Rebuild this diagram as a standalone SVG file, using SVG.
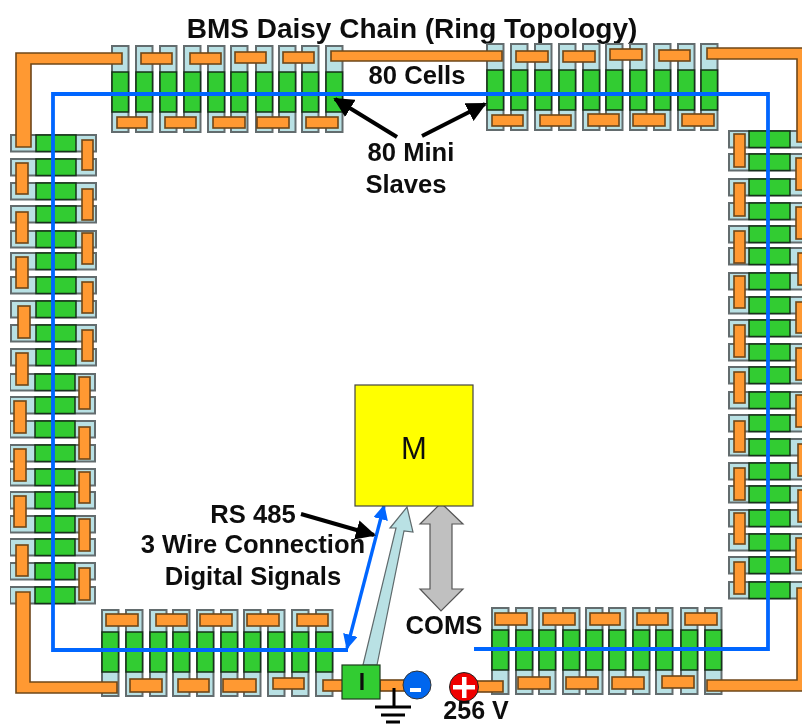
<svg xmlns="http://www.w3.org/2000/svg" xmlns:xlink="http://www.w3.org/1999/xlink" width="802" height="724" viewBox="0 0 802 724">
<style>
.cap{fill:#b9e1e4;stroke:#636c6e;stroke-width:2}
.g{fill:#33cc33;stroke:#17301a;stroke-width:1.5}
.o{fill:#ff9933;stroke:#6f4718;stroke-width:1.6}
.t{font-family:"Liberation Sans",Arial,sans-serif;font-weight:bold;fill:#111;text-anchor:middle}
.lbl{font-size:25.6px}
.wire{fill:none;stroke:#0066ff;stroke-width:3.8}
.ptr{fill:none;stroke:#000;stroke-width:4}
</style>
<defs>
<filter id="soft" x="0" y="0" width="100%" height="100%"><feGaussianBlur stdDeviation="0.45"/></filter>
<g id="vt"><rect class="cap" width="16.5" height="86"/><rect class="g" x="0" y="26" width="16.5" height="40"/></g>
<g id="vb"><rect class="cap" width="16.5" height="86"/><rect class="g" x="0" y="22" width="16.5" height="40"/></g>
<g id="hl"><rect class="cap" width="85" height="16.5"/><rect class="g" x="25" width="40" height="16.5"/></g>
<g id="hr"><rect class="cap" width="85" height="16.5"/><rect class="g" x="20" width="41" height="16.5"/></g>
<marker id="tipK" viewBox="0 0 10 10" refX="9" refY="5" markerWidth="5" markerHeight="5" orient="auto-start-reverse"><path d="M0 0L10 5L0 10z" fill="#000"/></marker>
<marker id="tipB" viewBox="0 0 10 10" refX="9" refY="5" markerWidth="4.4" markerHeight="4.4" orient="auto-start-reverse"><path d="M0 0L10 5L0 10z" fill="#0066ff"/></marker>
</defs>

<g filter="url(#soft)">
<text class="t" x="412" y="38" font-size="28">BMS Daisy Chain (Ring Topology)</text>

<g id="cells-top-left">
<use href="#vt" x="112" y="46"/><use href="#vt" x="136" y="46"/><use href="#vt" x="160" y="46"/><use href="#vt" x="184" y="46"/><use href="#vt" x="208" y="46"/><use href="#vt" x="231" y="46"/><use href="#vt" x="256" y="46"/><use href="#vt" x="279" y="46"/><use href="#vt" x="302" y="46"/><use href="#vt" x="326" y="46"/>
<rect class="o" x="141" y="53" width="31" height="11"/><rect class="o" x="190" y="53" width="31" height="11"/><rect class="o" x="235" y="52" width="31" height="11"/><rect class="o" x="283" y="52" width="31" height="11"/>
<rect class="o" x="117" y="117" width="30" height="11"/><rect class="o" x="165" y="117" width="31" height="11"/><rect class="o" x="213" y="117" width="32" height="11"/><rect class="o" x="257" y="117" width="32" height="11"/><rect class="o" x="306" y="117" width="32" height="11"/>
</g>
<g id="cells-top-right">
<use href="#vt" x="487" y="44"/><use href="#vt" x="511" y="44"/><use href="#vt" x="535" y="44"/><use href="#vt" x="559" y="44"/><use href="#vt" x="583" y="44"/><use href="#vt" x="606" y="44"/><use href="#vt" x="630" y="44"/><use href="#vt" x="654" y="44"/><use href="#vt" x="678" y="44"/><use href="#vt" x="701" y="44"/>
<rect class="o" x="516" y="51" width="32" height="11"/><rect class="o" x="563" y="51" width="32" height="11"/><rect class="o" x="610" y="49" width="32" height="11"/><rect class="o" x="659" y="50" width="31" height="11"/>
<rect class="o" x="492" y="115" width="31" height="11"/><rect class="o" x="540" y="115" width="31" height="11"/><rect class="o" x="588" y="114" width="31" height="12"/><rect class="o" x="633" y="114" width="32" height="12"/><rect class="o" x="682" y="114" width="32" height="12"/>
</g>
<g id="cells-bottom-left">
<use href="#vb" x="102" y="610"/><use href="#vb" x="126" y="610"/><use href="#vb" x="150" y="610"/><use href="#vb" x="173" y="610"/><use href="#vb" x="197" y="610"/><use href="#vb" x="221" y="610"/><use href="#vb" x="244" y="610"/><use href="#vb" x="268" y="610"/><use href="#vb" x="292" y="610"/><use href="#vb" x="316" y="610"/>
<rect class="o" x="106" y="614" width="32" height="12"/><rect class="o" x="156" y="614" width="31" height="12"/><rect class="o" x="200" y="614" width="32" height="12"/><rect class="o" x="247" y="614" width="32" height="12"/><rect class="o" x="297" y="614" width="31" height="12"/>
<rect class="o" x="130" y="679" width="32" height="13"/><rect class="o" x="178" y="679" width="31" height="13"/><rect class="o" x="223" y="679" width="33" height="13"/><rect class="o" x="273" y="678" width="31" height="11"/><rect class="o" x="323" y="680" width="20" height="11"/>
</g>
<g id="cells-bottom-right">
<use href="#vb" x="492" y="608"/><use href="#vb" x="516" y="608"/><use href="#vb" x="539" y="608"/><use href="#vb" x="563" y="608"/><use href="#vb" x="586" y="608"/><use href="#vb" x="609" y="608"/><use href="#vb" x="633" y="608"/><use href="#vb" x="656" y="608"/><use href="#vb" x="681" y="608"/><use href="#vb" x="705" y="608"/>
<rect class="o" x="495" y="613" width="32" height="12"/><rect class="o" x="543" y="613" width="32" height="12"/><rect class="o" x="590" y="613" width="30" height="12"/><rect class="o" x="637" y="613" width="31" height="12"/><rect class="o" x="685" y="613" width="32" height="12"/>
<rect class="o" x="518" y="677" width="32" height="12"/><rect class="o" x="566" y="677" width="32" height="12"/><rect class="o" x="612" y="677" width="32" height="12"/><rect class="o" x="662" y="676" width="32" height="12"/>
</g>
<g id="cells-left">
<use href="#hl" x="11" y="135"/><use href="#hl" x="11" y="159"/><use href="#hl" x="11" y="183"/><use href="#hl" x="11" y="206"/><use href="#hl" x="11" y="231"/><use href="#hl" x="11" y="253"/><use href="#hl" x="11" y="277"/><use href="#hl" x="11" y="301"/><use href="#hl" x="11" y="325"/><use href="#hl" x="11" y="349"/><use href="#hl" x="10" y="374"/><use href="#hl" x="10" y="397"/><use href="#hl" x="10" y="421"/><use href="#hl" x="10" y="445"/><use href="#hl" x="10" y="469"/><use href="#hl" x="10" y="492"/><use href="#hl" x="10" y="516"/><use href="#hl" x="10" y="539"/><use href="#hl" x="10" y="563"/><use href="#hl" x="10" y="587"/>
<rect class="o" x="16" y="163" width="12" height="31"/><rect class="o" x="16" y="212" width="12" height="31"/><rect class="o" x="16" y="257" width="12" height="31"/><rect class="o" x="18" y="306" width="12" height="32"/><rect class="o" x="16" y="353" width="12" height="32"/><rect class="o" x="14" y="401" width="12" height="32"/><rect class="o" x="14" y="449" width="12" height="32"/><rect class="o" x="14" y="496" width="12" height="31"/><rect class="o" x="16" y="545" width="12" height="31"/>
<rect class="o" x="82" y="140" width="11" height="30"/><rect class="o" x="82" y="189" width="11" height="31"/><rect class="o" x="82" y="233" width="11" height="31"/><rect class="o" x="82" y="282" width="11" height="31"/><rect class="o" x="82" y="330" width="11" height="31"/><rect class="o" x="79" y="377" width="11" height="32"/><rect class="o" x="79" y="427" width="11" height="32"/><rect class="o" x="79" y="472" width="11" height="31"/><rect class="o" x="79" y="519" width="11" height="32"/><rect class="o" x="79" y="568" width="11" height="32"/>
</g>
<g id="cells-right">
<use href="#hr" x="729" y="131"/><use href="#hr" x="729" y="154"/><use href="#hr" x="729" y="179"/><use href="#hr" x="729" y="203"/><use href="#hr" x="729" y="226"/><use href="#hr" x="729" y="248"/><use href="#hr" x="729" y="273"/><use href="#hr" x="729" y="297"/><use href="#hr" x="729" y="320"/><use href="#hr" x="729" y="344"/><use href="#hr" x="729" y="367"/><use href="#hr" x="729" y="392"/><use href="#hr" x="729" y="415"/><use href="#hr" x="729" y="439"/><use href="#hr" x="729" y="463"/><use href="#hr" x="729" y="486"/><use href="#hr" x="729" y="510"/><use href="#hr" x="729" y="534"/><use href="#hr" x="729" y="557"/><use href="#hr" x="729" y="582"/>
<rect class="o" x="734" y="134" width="11" height="33"/><rect class="o" x="734" y="183" width="11" height="33"/><rect class="o" x="734" y="231" width="11" height="32"/><rect class="o" x="734" y="276" width="11" height="32"/><rect class="o" x="734" y="325" width="11" height="32"/><rect class="o" x="734" y="372" width="11" height="31"/><rect class="o" x="734" y="421" width="11" height="31"/><rect class="o" x="734" y="468" width="11" height="32"/><rect class="o" x="734" y="513" width="11" height="31"/><rect class="o" x="734" y="562" width="11" height="32"/>
<rect class="o" x="796" y="158" width="12" height="32"/><rect class="o" x="796" y="207" width="12" height="32"/><rect class="o" x="798" y="253" width="12" height="32"/><rect class="o" x="796" y="302" width="12" height="31"/><rect class="o" x="796" y="348" width="12" height="32"/><rect class="o" x="796" y="395" width="12" height="32"/><rect class="o" x="798" y="444" width="12" height="32"/><rect class="o" x="798" y="490" width="12" height="32"/><rect class="o" x="796" y="538" width="12" height="32"/>
</g>
<g id="bus-bars">
<path class="o" d="M16 53H122V64H31V147H16Z"/>
<path class="o" d="M331 51H502V61H331Z"/>
<path class="o" d="M707 48H810V142H797V59H707Z"/>
<path class="o" d="M16 592H30V682H117V693H16Z"/>
<path class="o" d="M797 588H810V691H707V680H797Z"/>
</g>

<g id="connectors">
<path class="wire" d="M348 650H53V94H768V649H474"/>
<line x1="347" y1="648" x2="384" y2="506" stroke="#0066ff" stroke-width="3.4" marker-start="url(#tipB)" marker-end="url(#tipB)"/>
<line class="ptr" x1="397" y1="137" x2="335" y2="99" marker-end="url(#tipK)"/>
<line class="ptr" x1="422" y1="136" x2="485" y2="104" marker-end="url(#tipK)"/>
<line class="ptr" x1="301" y1="514" x2="374" y2="535" marker-end="url(#tipK)"/>
<path id="power-link" d="M407 507L413 532L404 531L377 665H363L396 528L390 528Z" fill="#b9e1e4" stroke="#5f6a6c" stroke-width="1.2"/>
<path id="coms-link" d="M441 503L463 524H452V589H463L441 611L420 589H430V524H420Z" fill="#c0c0c0" stroke="#555" stroke-width="1.2"/>
</g>

<g id="node-master">
<rect x="355" y="385" width="118" height="121" fill="#ffff00" stroke="#444" stroke-width="1.2"/>
<text x="414" y="459" font-family="'Liberation Sans',Arial,sans-serif" font-size="31" text-anchor="middle" fill="#111">M</text>
</g>
<g id="node-isolator">
<rect class="o" x="380" y="680" width="26" height="11"/>
<rect x="342" y="665" width="38" height="34" fill="#33cc33" stroke="#1f3a1f" stroke-width="1.2"/>
<text x="362" y="690" font-family="'Liberation Sans',Arial,sans-serif" font-size="23" font-weight="bold" text-anchor="middle" fill="#111">I</text>
</g>
<g id="node-ground" stroke="#000" stroke-width="3" fill="none">
<path d="M394 688V707M375 707H411M381 715H405M386 722H400"/>
</g>
<g id="node-minus">
<circle cx="417" cy="685" r="14" fill="#0066ee" stroke="#333" stroke-width="1"/>
<rect x="410" y="688" width="11" height="4" fill="#fff"/>
</g>
<g id="node-plus">
<rect class="o" x="476" y="681" width="27" height="11"/>
<circle cx="464" cy="687" r="14.500" fill="#ee0000" stroke="#222" stroke-width="1"/>
<path d="M462 677H466.500V685H475V689.500H466.500V698H462V689.500H453V685H462Z" fill="#fff"/>
</g>

<g id="labels">
<text class="t lbl" x="417" y="84">80 Cells</text>
<text class="t lbl" x="411" y="161">80 Mini</text>
<text class="t lbl" x="406" y="193">Slaves</text>
<text class="t lbl" x="253" y="523">RS 485</text>
<text class="t lbl" x="253" y="553">3 Wire Connection</text>
<text class="t lbl" x="253" y="585">Digital Signals</text>
<text class="t lbl" x="444" y="634">COMS</text>
<text class="t" x="476" y="718.500" font-size="25">256 V</text>
</g>
</g>
</svg>
